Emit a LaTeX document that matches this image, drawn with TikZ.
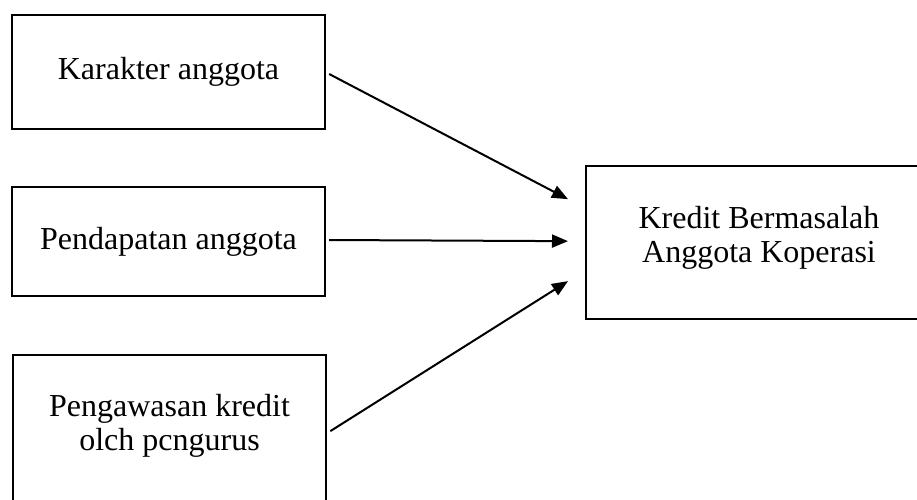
\documentclass[tikz,border=0pt]{standalone}
\usepackage{fontspec}
\setmainfont{Liberation Serif}
\usetikzlibrary{arrows.meta,calc}

\tikzset{
	box/.style={draw, line width=2.3pt, rectangle, inner sep=0pt, font=\fontsize{32}{34}\selectfont, align=center},
	lbl/.style={inner sep=0pt, font=\fontsize{32}{34}\selectfont, align=center},
	link/.style={line width=2pt, -{Triangle[length=16pt,width=13pt]}}
}

\begin{document}
\begin{tikzpicture}[x=1pt,y=1pt,yscale=-1,xscale=1]
		\clip (0,0) rectangle (917,499);
		
		\node[box, minimum width=313, minimum height=114] (kar) at (168.5,72) {Karakter anggota};
		\node[box, minimum width=313, minimum height=109] (pen) at (168.5,241.5) {Pendapatan anggota};
		\node[box, minimum width=313, minimum height=166, anchor=north west] (pgw) at (12,354) {};
		\node[lbl] (pgwtext) at (169.5,425.5) {Pengawasan kredit\\olch pcngurus};
		\node[box, minimum width=355, minimum height=153, anchor=north west] (kre) at (585,165) {};
		\node[lbl] (kretext) at (759,237.5) {Kredit Bermasalah\\Anggota Koperasi};
		
		\draw[link] ($(kar.east)+(3,2)$) -- ($(kre.west)+(-17,-43.5)$);
		\draw[link] ($(pen.east)+(3,-1.5)$) -- ($(kre.west)+(-17,-1.5)$);
		\draw[link] ($(pgw.east)+(3,-7)$) -- ($(kre.west)+(-17,38.5)$);
		\end{tikzpicture}
\end{document}
